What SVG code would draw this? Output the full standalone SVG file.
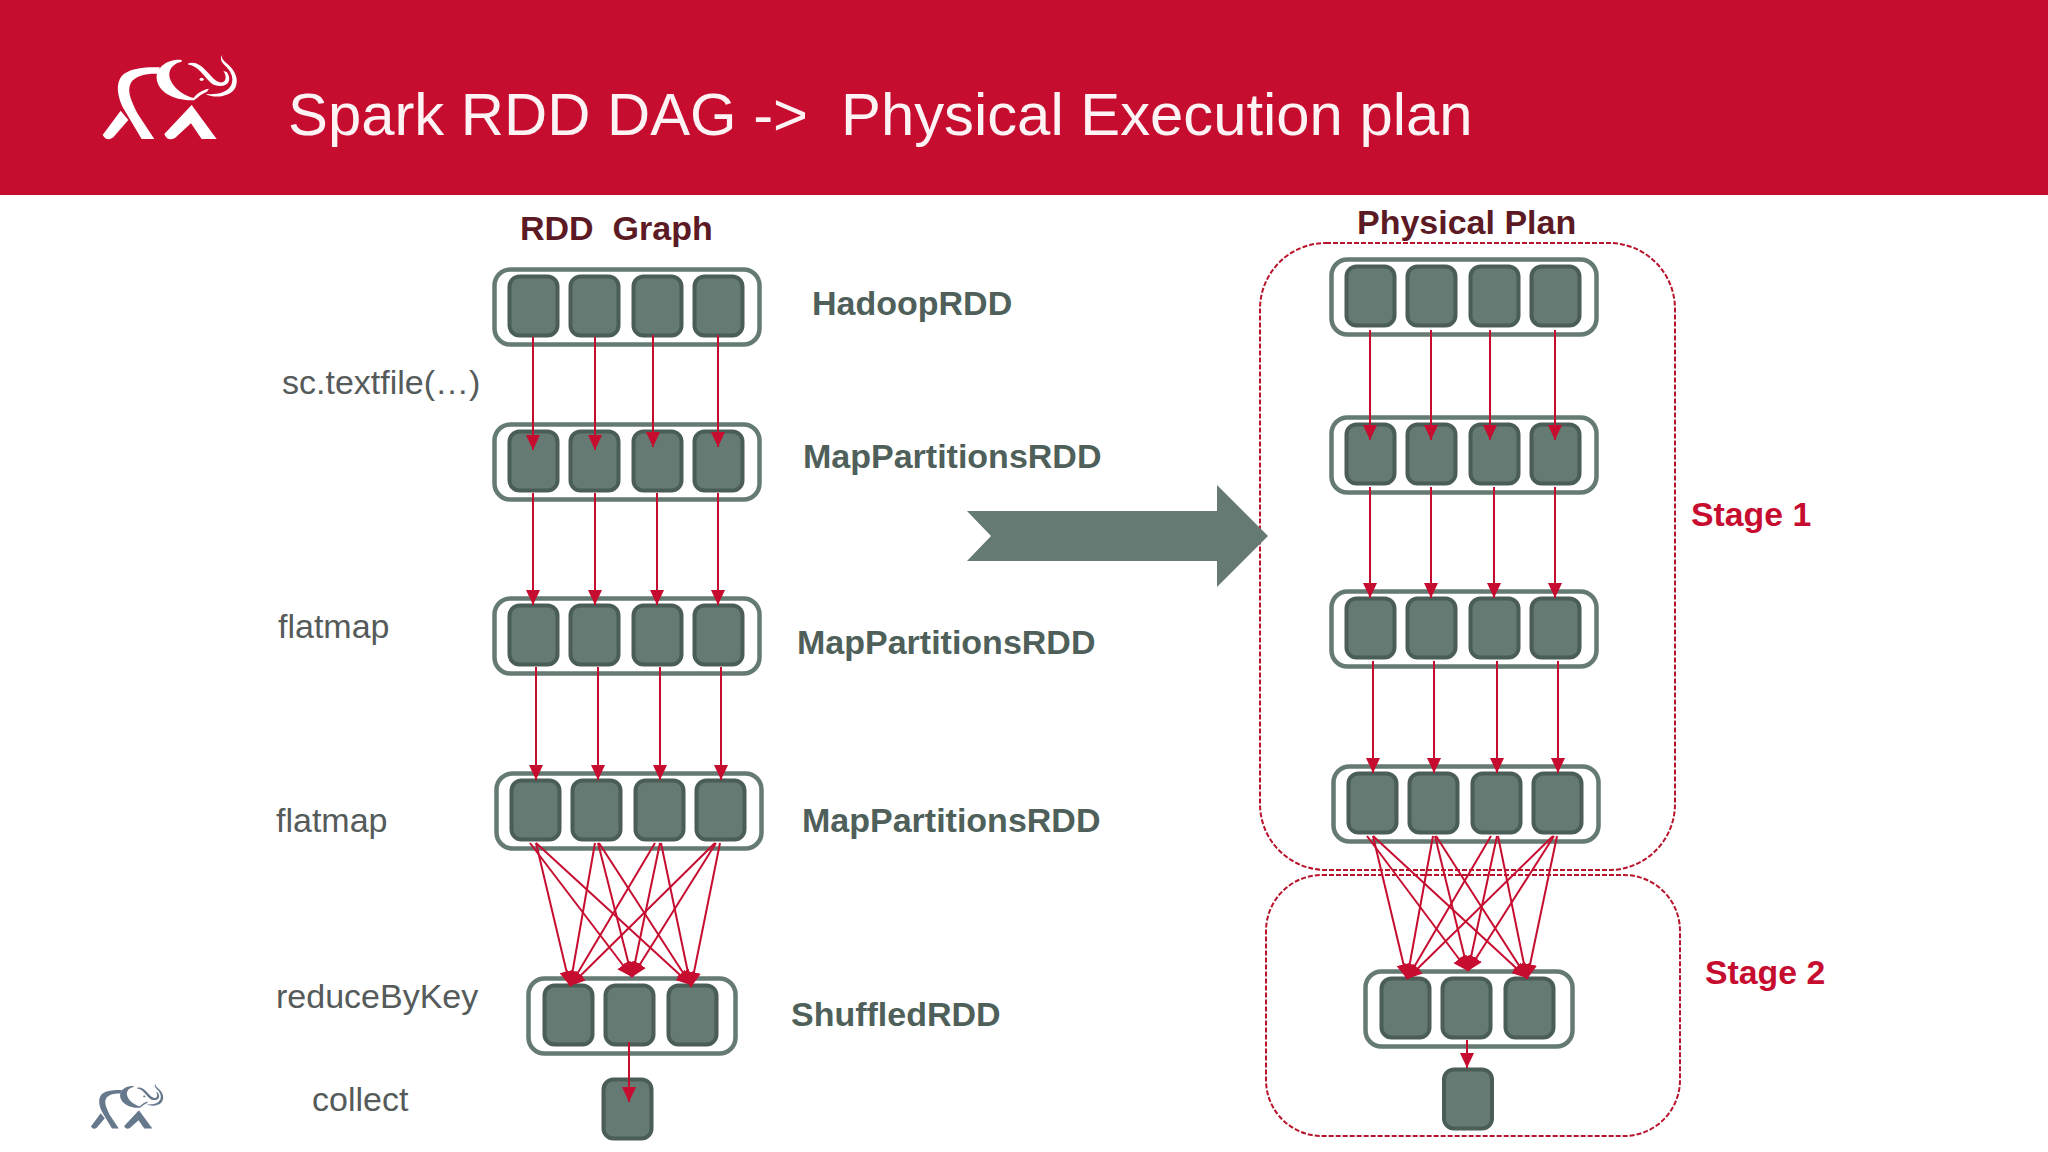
<svg xmlns="http://www.w3.org/2000/svg" xmlns:xlink="http://www.w3.org/1999/xlink" width="2048" height="1152" viewBox="0 0 2048 1152">
<style>
text{font-family:"Liberation Sans",Arial,sans-serif}
.title{font-size:59.800px;fill:#fdf3f4}
.head{font-size:34px;font-weight:700;fill:#5c1a24}
.rdd{font-size:34px;font-weight:700;fill:#4f5f5a}
.stage{font-size:33.800px;font-weight:700;fill:#c60d30}
.op{font-size:34px;fill:#555b5a}
.outer{fill:#fff;stroke:#647a72;stroke-width:4.500}
.cell{fill:#647a72;stroke:#4a5d57;stroke-width:4}
.dash{fill:none;stroke:#b8142c;stroke-width:2;stroke-dasharray:5 2}
.c line{stroke:#c60d30;stroke-width:2;marker-end:url(#ah)}
</style>
<defs>
<marker id="ah" markerUnits="userSpaceOnUse" markerWidth="15" markerHeight="14" refX="15" refY="7" orient="auto"><path d="M0 0L15 7L0 14z" fill="#c60d30"/></marker>
<g id="r4">
<rect class="outer" x="-1" y="-1" width="265" height="75" rx="16"/>
<rect class="cell" x="14" y="6" width="48" height="59" rx="10"/>
<rect class="cell" x="75" y="6" width="48" height="59" rx="10"/>
<rect class="cell" x="138" y="6" width="48" height="59" rx="10"/>
<rect class="cell" x="199" y="6" width="48" height="59" rx="10"/>
</g>
<g id="r3">
<rect class="outer" x="-1" y="-1" width="207" height="75" rx="16"/>
<rect class="cell" x="15" y="6" width="48" height="59" rx="10"/>
<rect class="cell" x="76" y="6" width="48" height="59" rx="10"/>
<rect class="cell" x="139" y="6" width="48" height="59" rx="10"/>
</g>
<g id="logo">
<path d="M283 357L245 357L190 265C170 225 165 180 195 160C215 145 260 140 300 142L292 162C270 160 225 165 212 190C200 215 215 245 232 280Z"/>
<path d="M182 272L205 300L160 352Q140 366 128 345Z"/>
<path d="M395 255L470 357L425 357L393 310L345 354Q322 366 313 342Z"/>
<path d="M365 120C330 116 288 138 290 175C293 215 340 242 397 241L402 234C365 226 330 195 328 165C327 145 342 130 365 125Z"/>
<path d="M385 130C422 118 447 168 470 183C488 195 508 180 490 152L501 157C520 185 497 207 463 195C438 182 420 137 385 134Z"/>
<path d="M490 103C478 115 495 125 511 140C542 172 534 214 500 224C480 232 458 232 437 222C470 224 500 220 514 195C524 170 509 150 494 136C481 122 479 112 490 103Z"/>
<path d="M395 241C410 220 425 210 447 206L441 215C425 220 415 232 402 241Z"/>
<ellipse cx="425" cy="178" rx="6" ry="5"/>
</g>
</defs>
<rect width="2048" height="1152" fill="#fff"/>
<rect id="header" width="2048" height="195" fill="#c60d30"/>
<use id="logo-main" xlink:href="#logo" transform="translate(60 20) scale(.3333)" fill="#fff"/>
<use id="logo-small" xlink:href="#logo" transform="translate(68 1064.500) scale(.1795)" fill="#66788c"/>
<text class="title" x="288" y="135">Spark RDD DAG -&gt;</text>
<text class="title" x="841" y="135">Physical Execution plan</text>
<text class="head" x="520" y="240" xml:space="preserve">RDD  Graph</text>
<text class="head" x="1357" y="233.500">Physical Plan</text>
<text class="op" x="282" y="393.500">sc.textfile(…)</text>
<text class="op" x="278" y="638">flatmap</text>
<text class="op" x="276" y="832">flatmap</text>
<text class="op" x="276" y="1008">reduceByKey</text>
<text class="op" x="312" y="1111">collect</text>
<g id="stage-1"><rect class="dash" x="1260" y="243" width="415" height="627" rx="66"/><text class="stage" x="1691" y="526">Stage 1</text></g>
<g id="stage-2"><rect class="dash" x="1266" y="875" width="414" height="261" rx="56"/><text class="stage" x="1705" y="984">Stage 2</text></g>
<path id="big-arrow" d="M967 511H1217V485L1268 536L1217 587V561H967L991 536Z" fill="#647a72"/>
<g id="l-hadoop"><use xlink:href="#r4" x="495.500" y="270.500"/><text class="rdd" x="812" y="315">HadoopRDD</text></g>
<g id="l-map1"><use xlink:href="#r4" x="495.500" y="425.500"/><text class="rdd" x="803" y="468">MapPartitionsRDD</text></g>
<g id="l-map2"><use xlink:href="#r4" x="495.500" y="599.500"/><text class="rdd" x="797" y="654">MapPartitionsRDD</text></g>
<g id="l-map3"><use xlink:href="#r4" x="497.500" y="774.500"/><text class="rdd" x="802" y="832">MapPartitionsRDD</text></g>
<g id="l-shuffled"><use xlink:href="#r3" x="529.500" y="979.500"/><text class="rdd" x="791" y="1026">ShuffledRDD</text></g>
<g id="l-result"><rect class="cell" x="603.500" y="1079.500" width="48" height="59" rx="10"/></g>
<g id="r-hadoop"><use xlink:href="#r4" x="1332.500" y="260.500"/></g>
<g id="r-map1"><use xlink:href="#r4" x="1332.500" y="418.500"/></g>
<g id="r-map2"><use xlink:href="#r4" x="1332.500" y="592.500"/></g>
<g id="r-map3"><use xlink:href="#r4" x="1334.500" y="767.500"/></g>
<g id="r-shuffled"><use xlink:href="#r3" x="1366.500" y="972.500"/></g>
<g id="r-result"><rect class="cell" x="1444" y="1069.500" width="48" height="59" rx="10"/></g>
<g id="connectors" class="c">
<line x1="533" y1="337" x2="533" y2="450"/><line x1="595" y1="337" x2="595" y2="450"/><line x1="653" y1="335" x2="653" y2="447"/><line x1="718" y1="335" x2="718" y2="447"/>
<line x1="533" y1="493" x2="533" y2="605"/><line x1="595" y1="493" x2="595" y2="605"/><line x1="657" y1="493" x2="657" y2="605"/><line x1="718" y1="493" x2="718" y2="605"/>
<line x1="536" y1="667" x2="536" y2="780"/><line x1="598" y1="667" x2="598" y2="780"/><line x1="660" y1="667" x2="660" y2="780"/><line x1="721" y1="667" x2="721" y2="780"/>
<line x1="536" y1="843" x2="570" y2="986"/><line x1="530" y1="843" x2="632" y2="977"/><line x1="536" y1="843" x2="691" y2="985"/>
<line x1="595" y1="843" x2="570" y2="986"/><line x1="598" y1="843" x2="632" y2="977"/><line x1="599" y1="843" x2="691" y2="985"/>
<line x1="655" y1="843" x2="570" y2="986"/><line x1="660" y1="843" x2="632" y2="977"/><line x1="661" y1="843" x2="691" y2="987"/>
<line x1="715" y1="843" x2="570" y2="986"/><line x1="716" y1="843" x2="632" y2="977"/><line x1="720" y1="843" x2="691" y2="987"/>
<line x1="629" y1="1042" x2="629" y2="1102"/>
<line x1="1370" y1="330" x2="1370" y2="440"/><line x1="1431" y1="330" x2="1431" y2="440"/><line x1="1490" y1="330" x2="1490" y2="440"/><line x1="1555" y1="330" x2="1555" y2="440"/>
<line x1="1370" y1="487" x2="1370" y2="598"/><line x1="1431" y1="487" x2="1431" y2="598"/><line x1="1494" y1="487" x2="1494" y2="598"/><line x1="1555" y1="487" x2="1555" y2="598"/>
<line x1="1373" y1="661" x2="1373" y2="773"/><line x1="1434" y1="661" x2="1434" y2="773"/><line x1="1497" y1="661" x2="1497" y2="773"/><line x1="1558" y1="661" x2="1558" y2="773"/>
<line x1="1373" y1="836" x2="1407" y2="979"/><line x1="1367" y1="836" x2="1468" y2="971"/><line x1="1373" y1="836" x2="1527" y2="978"/>
<line x1="1433" y1="836" x2="1407" y2="979"/><line x1="1435" y1="836" x2="1468" y2="971"/><line x1="1436" y1="836" x2="1527" y2="978"/>
<line x1="1491" y1="836" x2="1407" y2="979"/><line x1="1497" y1="836" x2="1468" y2="971"/><line x1="1498" y1="836" x2="1527" y2="979"/>
<line x1="1553" y1="836" x2="1407" y2="979"/><line x1="1554" y1="836" x2="1468" y2="971"/><line x1="1557" y1="836" x2="1527" y2="979"/>
<line x1="1467" y1="1040" x2="1467" y2="1068"/>
</g>
</svg>
